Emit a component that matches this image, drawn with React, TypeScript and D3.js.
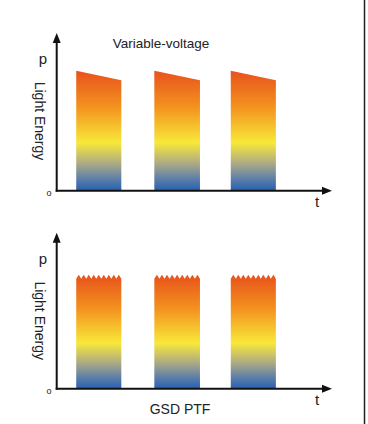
import React from "react";
import * as d3 from "d3";

const W = 368;
const H = 424;

// Pulse intervals on the time axis (0..100)
const pulses: [number, number][] = [
  [7.1, 23.5],
  [35.5, 52.1],
  [63.3, 79.7],
];
// Variable-voltage: energy at start and end of each pulse (0..1)
const vvStart = [0.76, 0.76, 0.76];
const vvEnd = [0.7, 0.7, 0.7];
// GSD PTF: ripple tip and base level
const ptfTip = [0.73, 0.73, 0.73];
const ptfBase = [0.705, 0.705, 0.705];
const ptfTeeth = [9, 9, 9];

const gradStops = [
  { o: 0, c: "#e8521c" },
  { o: 0.3, c: "#f3921f" },
  { o: 0.6, c: "#f8e83a" },
  { o: 0.78, c: "#a9a887" },
  { o: 0.9, c: "#5d7fa8" },
  { o: 1, c: "#2860b2" },
];

function Panel({ top, bottom, title, titleBelow, variant }: any) {
  const x = d3.scaleLinear().domain([0, 100]).range([56.7, 331.7]);
  const y = d3.scaleLinear().domain([0, 1]).range([bottom, top]);
  const line = d3.line<[number, number]>().x((d) => d[0]).y((d) => d[1]);
  const gid = "g" + variant;
  const paths = pulses.map(([a, b], i) => {
    const x0 = x(a), x1 = x(b);
    if (variant === "vv") {
      return line([[x0, y(0)], [x0, y(vvStart[i])], [x1, y(vvEnd[i])], [x1, y(0)]]) + "Z";
    }
    const n = ptfTeeth[i];
    const step = (x1 - x0) / n;
    const pts: [number, number][] = [[x0, y(0)], [x0, y(ptfBase[i])]];
    for (let k = 0; k < n; k++) {
      pts.push([x0 + (k + 0.5) * step, y(ptfTip[i])]);
      pts.push([x0 + (k + 1) * step, y(ptfBase[i])]);
    }
    pts.push([x1, y(0)]);
    return line(pts) + "Z";
  });
  const axisY = y(0);
  return (
    <g>
      <defs>
        <linearGradient id={gid} x1="0" y1="0" x2="0" y2="1">
          {gradStops.map((s) => (
            <stop key={s.o} offset={s.o} stopColor={s.c} />
          ))}
        </linearGradient>
      </defs>
      {paths.map((d, i) => (
        <path key={i} d={d} fill={`url(#${gid})`} />
      ))}
      <line x1={56.7} x2={56.7} y1={axisY + 1} y2={top + 8} stroke="#111" strokeWidth={2} />
      <path d={`M${52.7},${top + 10} L${56.7},${top} L${60.7},${top + 10} Z`} fill="#111" />
      <line x1={55.7} x2={324} y1={axisY} y2={axisY} stroke="#111" strokeWidth={2} />
      <path d={`M${322},${axisY - 4} L${332},${axisY} L${322},${axisY + 4} Z`} fill="#111" />
      <text x={43} y={top + 31} fontSize={15} textAnchor="middle" fill="#222">p</text>
      <text x={49} y={axisY + 5} fontSize={9} textAnchor="middle" fill="#222">o</text>
      <text x={317} y={axisY + 16} fontSize={15} textAnchor="middle" fill="#222">t</text>
      <text
        transform={`translate(34.5,${top + (variant === "vv" ? 88 : 88)}) rotate(90)`}
        fontSize={14}
        textAnchor="middle"
        fill="#222"
      >
        Light Energy
      </text>
      {title && (
        <text x={161} y={top + 15} fontSize={13.5} textAnchor="middle" fill="#222">{title}</text>
      )}
      {titleBelow && (
        <text x={180} y={axisY + 25} fontSize={14} textAnchor="middle" fill="#222">{titleBelow}</text>
      )}
    </g>
  );
}

export default function App() {
  return (
    <svg
      width={W}
      height={H}
      style={{ position: "absolute", left: 0, top: 0, background: "#fff", fontFamily: "'Liberation Sans', Arial, sans-serif" }}
    >
      <rect width={W} height={H} fill="#fff" />
      <Panel top={33} bottom={190.7} title="Variable-voltage" variant="vv" />
      <Panel top={232.7} bottom={388.7} titleBelow="GSD PTF" variant="ptf" />
      <line x1={364.5} x2={364.5} y1={0} y2={H} stroke="#222" strokeWidth={1.5} />
    </svg>
  );
}
